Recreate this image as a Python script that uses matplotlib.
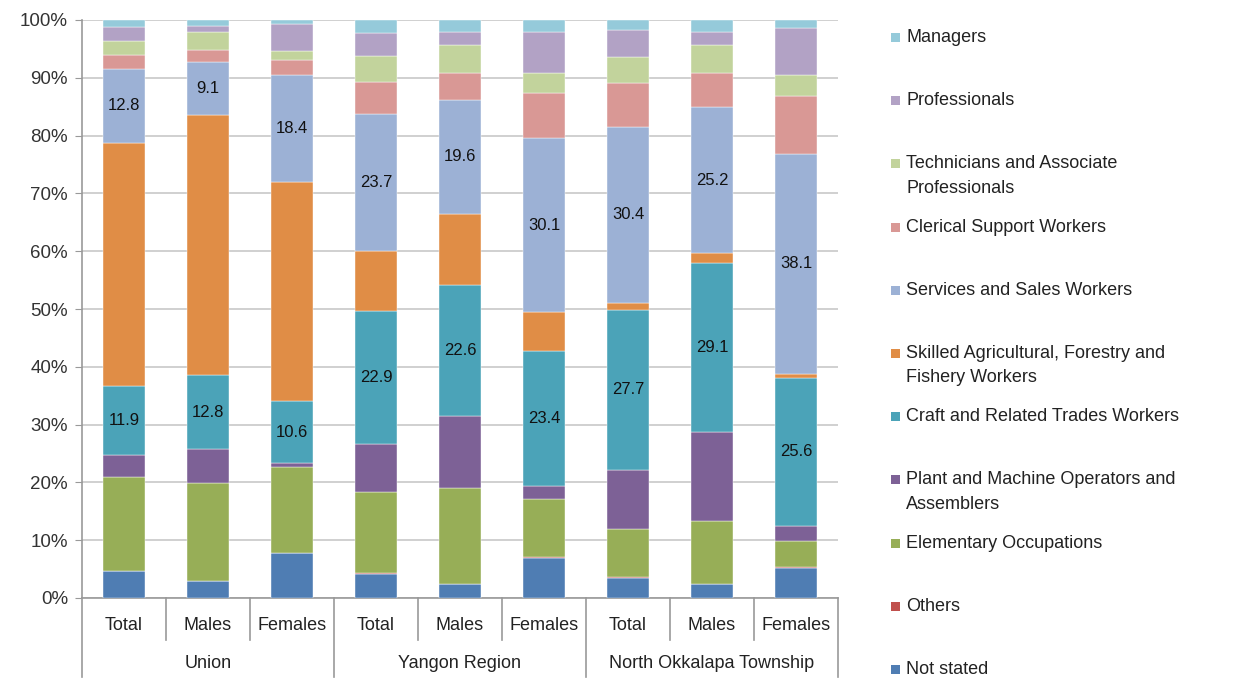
import numpy as np
import matplotlib.pyplot as plt
from matplotlib.patches import Rectangle

plt.rcParams['font.family'] = ['Liberation Sans', 'DejaVu Sans']

# Catégories (3 zones x 3 sous-groupes)
groupes = ['Union', 'Yangon Region', 'North Okkalapa Township']
sous_groupes = ['Total', 'Males', 'Females']

# Séries, de bas en haut (en %)
not_stated    = [4.6, 2.9, 7.7, 4.2, 2.4, 7.0, 3.5, 2.4, 5.2]
others        = [0.1, 0.1, 0.1, 0.1, 0.1, 0.1, 0.1, 0.1, 0.1]
elementary    = [16.2, 16.9, 14.8, 14.1, 16.6, 10.0, 8.3, 10.8, 4.5]
plant         = [3.8, 5.8, 0.8, 8.3, 12.4, 2.3, 10.3, 15.5, 2.7]
craft         = [11.9, 12.8, 10.6, 22.9, 22.6, 23.4, 27.7, 29.1, 25.6]
skilled_agri  = [42.2, 45.1, 38.0, 10.4, 12.4, 6.6, 1.2, 1.8, 0.7]
services      = [12.8, 9.1, 18.4, 23.7, 19.6, 30.1, 30.4, 25.2, 38.1]
clerical      = [2.4, 2.1, 2.6, 5.6, 4.7, 7.9, 7.6, 5.9, 10.0]
technicians   = [2.4, 3.1, 1.7, 4.5, 4.9, 3.4, 4.5, 4.8, 3.5]
professionals = [2.4, 1.0, 4.6, 4.0, 2.3, 7.2, 4.7, 2.3, 8.2]
managers      = [1.2, 1.1, 0.7, 2.2, 2.0, 2.0, 1.7, 2.1, 1.4]

series = [
    ('Not stated', not_stated, '#4F7DB3'),
    ('Others', others, '#C0504D'),
    ('Elementary Occupations', elementary, '#97AE57'),
    ('Plant and Machine Operators and\nAssemblers', plant, '#7D6196'),
    ('Craft and Related Trades Workers', craft, '#4BA3B8'),
    ('Skilled Agricultural, Forestry and\nFishery Workers', skilled_agri, '#E08D46'),
    ('Services and Sales Workers', services, '#9CB1D5'),
    ('Clerical Support Workers', clerical, '#D99895'),
    ('Technicians and Associate\nProfessionals', technicians, '#C2D39C'),
    ('Professionals', professionals, '#B2A2C5'),
    ('Managers', managers, '#95CADA'),
]
avec_etiquettes = ['Craft and Related Trades Workers', 'Services and Sales Workers']

fig = plt.figure(figsize=(12.42, 6.79), dpi=100)
ax = fig.add_axes([82 / 1242, 1 - 598 / 679, 756 / 1242, 578 / 679])

x = np.arange(9)
total = np.sum([np.array(v) for _, v, _ in series], axis=0)
bas = np.zeros(9)
for nom, vals, coul in series:
    v = np.array(vals) / total * 100
    barres = ax.bar(x, v, 0.5, bottom=bas, color=coul, edgecolor='white', linewidth=0.3, zorder=3)
    if nom in avec_etiquettes:
        ax.bar_label(barres, labels=[f'{a:.1f}' for a in vals], label_type='center',
                     fontsize=12, color='#111111')
    bas += v

# Axes
ax.set_xlim(-0.5, 8.5)
ax.set_ylim(0, 100)
ax.set_yticks(np.arange(0, 101, 10))
ax.set_yticklabels([f'{t}%' for t in range(0, 101, 10)], fontsize=13.5, color='#333333')
ax.yaxis.grid(True, color='#C8C8C8', linewidth=1.2, zorder=0)
ax.tick_params(axis='y', length=5, color='#999999', pad=5)
ax.set_xticks([])
for s in ['top', 'right']:
    ax.spines[s].set_visible(False)
for s in ['left', 'bottom']:
    ax.spines[s].set_color('#999999')
    ax.spines[s].set_linewidth(1.2)

# Étiquettes de l'axe des x sur deux niveaux
trans = ax.get_xaxis_transform()
for i in range(9):
    ax.text(i, -0.047, sous_groupes[i % 3], transform=trans, ha='center', va='center',
            fontsize=13, color='#222222')
for j, g in enumerate(groupes):
    ax.text(3 * j + 1, -0.114, g, transform=trans, ha='center', va='center',
            fontsize=13, color='#222222')
for i in range(10):
    xs = i - 0.5
    bas_ligne = -0.137 if i % 3 == 0 else -0.073
    ax.plot([xs, xs], [0, bas_ligne], transform=trans, color='#999999', linewidth=1.2, clip_on=False)

# Légende (de haut en bas)
for k, (nom, vals, coul) in enumerate(reversed(series)):
    y_px = 38 + k * 63.2
    fig.patches.append(Rectangle((891 / 1242, 1 - (y_px + 4) / 679), 9 / 1242, 9 / 679,
                                 transform=fig.transFigure, facecolor=coul, edgecolor='none'))
    fig.text(906 / 1242, 1 - (y_px - 9) / 679, nom, ha='left', va='top', fontsize=13,
             color='#222222', linespacing=1.55)

fig.savefig('out.png', dpi=100)
